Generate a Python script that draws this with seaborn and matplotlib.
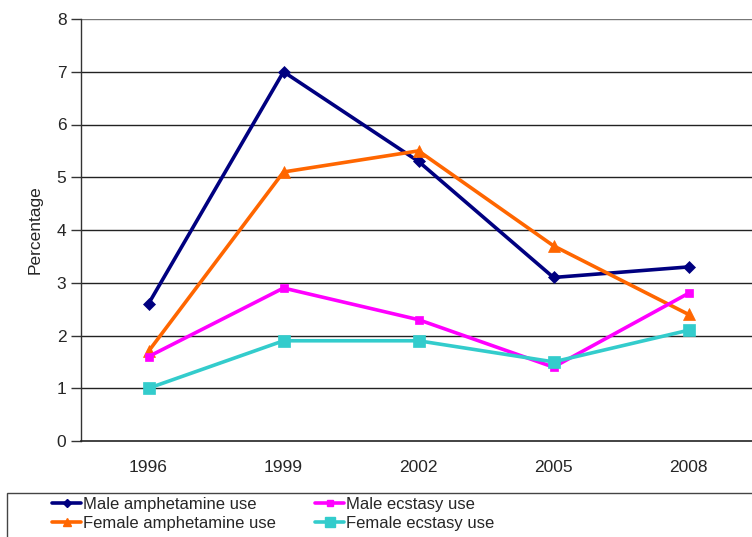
import matplotlib
matplotlib.use("Agg")
import matplotlib.pyplot as plt
from matplotlib.lines import Line2D
from matplotlib.patches import Rectangle
import seaborn as sns
import pandas as pd

years = ["1996", "1999", "2002", "2005", "2008"]
male_amphetamine = [2.6, 7.0, 5.3, 3.1, 3.3]
female_amphetamine = [1.7, 5.1, 5.5, 3.7, 2.4]
male_ecstasy = [1.6, 2.9, 2.3, 1.4, 2.8]
female_ecstasy = [1.0, 1.9, 1.9, 1.5, 2.1]

series = [
    ("Male amphetamine use", male_amphetamine, "#000080", "D", 6),
    ("Female amphetamine use", female_amphetamine, "#FF6600", "^", 8),
    ("Male ecstasy use", male_ecstasy, "#FF00FF", "s", 6),
    ("Female ecstasy use", female_ecstasy, "#33CCCC", "s", 9),
]

rows = []
for name, vals, *_ in series:
    for i, v in enumerate(vals):
        rows.append({"pos": i, "year": years[i], "value": v, "series": name})
df = pd.DataFrame(rows)

sns.set_theme(style="white")
plt.rcParams["font.family"] = ["Liberation Sans", "DejaVu Sans"]

W, H = 752, 537
fig = plt.figure(figsize=(W / 100, H / 100), dpi=100)
ax = fig.add_axes([81 / W, 1 - 441 / H, 675 / W, 422 / H])

for name, vals, color, mk, ms in series:
    sub = df[df["series"] == name]
    sns.lineplot(data=sub, x="pos", y="value", ax=ax, color=color, lw=2.6,
                 marker=mk, markersize=ms, markeredgecolor=color,
                 markeredgewidth=0.5, legend=False, zorder=3)

ax.set_xlim(-0.5, 4.5)
ax.set_ylim(0, 8)
ax.set_yticks(range(0, 9))
for y in range(1, 9):
    ax.axhline(y, color="#222222" if y < 8 else "#777777", lw=1.0, zorder=1)

ax.set_xticks(range(5))
ax.set_xticklabels(years)
ax.set_xticks([i - 0.5 for i in range(6)], minor=True)
ax.tick_params(axis="x", which="major", length=0, pad=14, labelsize=12.5)
ax.tick_params(axis="x", which="minor", length=7, width=1, color="#333333", direction="out")
ax.tick_params(axis="y", length=7, width=1, color="#333333", direction="out",
               labelsize=12.5, left=True)

for side in ["top", "right"]:
    ax.spines[side].set_visible(False)
ax.spines["left"].set_color("#333333")
ax.spines["bottom"].set_color("#222222")
ax.spines["left"].set_linewidth(1)
ax.spines["bottom"].set_linewidth(1.2)

ax.set_xlabel("")
ax.set_ylabel("Percentage", fontsize=12.5, labelpad=10)

# legend frame running off the right and bottom edges
fig.add_artist(Rectangle((7 / W, 1 - 545 / H), 760 / W, 52 / H,
                         transform=fig.transFigure, fill=False,
                         edgecolor="#444444", lw=1, clip_on=False))

legend_font = {"family": ["Liberation Sans", "DejaVu Sans"], "size": 12}

def make_handle(color, marker, ms):
    return Line2D([0], [0], color=color, lw=2.6, marker=marker,
                  markersize=ms * 0.75, markeredgecolor=color)

columns = [(52, [series[0], series[1]]), (315, [series[2], series[3]])]
for x0, items in columns:
    fig.legend([make_handle(c, m, ms) for _, _, c, m, ms in items],
               [s[0] for s in items], loc="upper left",
               bbox_to_anchor=(x0 / W, 1 - 497 / H), ncol=1,
               frameon=False, prop=legend_font, handlelength=1.75,
               handletextpad=0.12, borderpad=0, labelspacing=0.22,
               borderaxespad=0)

fig.savefig("out.png", dpi=100)
